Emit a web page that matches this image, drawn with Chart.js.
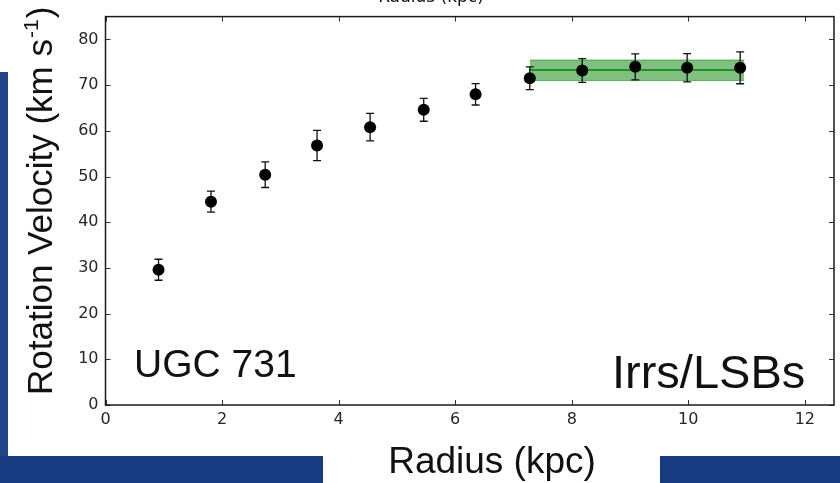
<!DOCTYPE html>
<html>
<head>
<meta charset="utf-8">
<script src="https://cdn.jsdelivr.net/npm/chart.js@4.4.1/dist/chart.umd.min.js"></script>
<style>
  html, body { margin: 0; padding: 0; background: #ffffff; }
  canvas { display: block; }
</style>
</head>
<body>
<canvas id="rc" width="840" height="483"></canvas>
<script>
// UGC 731 rotation curve: radius (kpc), velocity (km/s) and 1-sigma errors
const radius      = [0.91, 1.81, 2.74, 3.63, 4.54, 5.46, 6.35, 7.28, 8.18, 9.09, 9.98, 10.89];
const velocity    = [29.6, 44.5, 50.4, 56.8, 60.8, 64.6, 68.0, 71.5, 73.2, 74.0, 73.8, 73.8];
const velocityErr = [2.3, 2.3, 2.8, 3.3, 3.0, 2.5, 2.35, 2.5, 2.6, 2.85, 3.1, 3.5];

// Flat part of the curve: mean velocity and its band
const flatRange = [7.28, 10.96];
const flatMean  = 73.3;
const flatLow   = 71.0;
const flatHigh  = 75.5;

// Axis limits and tick spacing
const xRange = [0, 12.5];
const xStep  = 2;
const yRange = [0, 85];
const yStep  = 10;

const galaxyName = 'UGC 731';
const galaxyType = 'Irrs/LSBs';

const points = radius.map((r, i) => ({ x: r, y: velocity[i] }));
const flatLine = (v) => flatRange.map(r => ({ x: r, y: v }));

const POINTS_INDEX = 3;

const decor = {
  id: 'decor',
  beforeDraw(chart) {
    const ctx = chart.ctx;
    ctx.save();
    ctx.fillStyle = '#ffffff';
    ctx.fillRect(0, 0, chart.width, chart.height);
    ctx.fillStyle = '#22458c';
    ctx.fillRect(0, 72, 8, 384);
    ctx.fillStyle = '#173a80';
    ctx.fillRect(0, 456, 323, 27);
    ctx.fillRect(660, 456, 180, 27);
    ctx.restore();
  },
  beforeDatasetDraw(chart, args) {
    if (args.index !== POINTS_INDEX) return;
    const ctx = chart.ctx;
    const xs = chart.scales.x, ys = chart.scales.y;
    ctx.save();
    ctx.strokeStyle = '#111111';
    ctx.lineWidth = 1.3;
    radius.forEach((r, i) => {
      const px = xs.getPixelForValue(r);
      const top = ys.getPixelForValue(velocity[i] + velocityErr[i]);
      const bot = ys.getPixelForValue(velocity[i] - velocityErr[i]);
      ctx.beginPath();
      ctx.moveTo(px, top); ctx.lineTo(px, bot);
      ctx.moveTo(px - 4, top); ctx.lineTo(px + 4, top);
      ctx.moveTo(px - 4, bot); ctx.lineTo(px + 4, bot);
      ctx.stroke();
    });
    ctx.restore();
  },
  afterDraw(chart) {
    const ctx = chart.ctx;
    const a = chart.chartArea;
    const xs = chart.scales.x, ys = chart.scales.y;
    ctx.save();
    // inward tick marks on all four sides
    ctx.strokeStyle = '#333333';
    ctx.lineWidth = 1;
    ctx.beginPath();
    xs.ticks.forEach(t => {
      const px = Math.round(xs.getPixelForValue(t.value)) + 0.5;
      ctx.moveTo(px, a.bottom); ctx.lineTo(px, a.bottom - 5);
      ctx.moveTo(px, a.top); ctx.lineTo(px, a.top + 5);
    });
    ys.ticks.forEach(t => {
      const py = Math.round(ys.getPixelForValue(t.value)) + 0.5;
      ctx.moveTo(a.left, py); ctx.lineTo(a.left + 5, py);
      ctx.moveTo(a.right, py); ctx.lineTo(a.right - 5, py);
    });
    ctx.stroke();
    // plot frame
    ctx.strokeStyle = '#1a1a1a';
    ctx.lineWidth = 1.5;
    ctx.strokeRect(a.left, a.top, a.right - a.left, a.bottom - a.top);

    ctx.fillStyle = '#111111';
    // top axis label (partly above the canvas edge)
    ctx.font = '17px "DejaVu Sans"';
    ctx.textAlign = 'center';
    ctx.textBaseline = 'alphabetic';
    ctx.fillText('Radius (kpc)', 431, 2);

    // bottom axis label
    ctx.font = '37px "Liberation Sans"';
    ctx.fillText('Radius (kpc)', 492, 473);

    // vertical axis label with superscript
    ctx.save();
    ctx.translate(52, 395);
    ctx.rotate(-Math.PI / 2);
    ctx.textAlign = 'left';
    ctx.font = '35px "Liberation Sans"';
    const main = 'Rotation Velocity (km s';
    ctx.fillText(main, 0, 0);
    const w1 = ctx.measureText(main).width;
    ctx.font = '21px "Liberation Sans"';
    ctx.fillText('-1', w1 + 1, -14);
    const w2 = ctx.measureText('-1').width;
    ctx.font = '35px "Liberation Sans"';
    ctx.fillText(')', w1 + w2 + 2, 0);
    ctx.restore();

    // annotations
    ctx.textAlign = 'left';
    ctx.font = '39px "Liberation Sans"';
    ctx.fillText(galaxyName, 134, 377);
    ctx.font = '47px "Liberation Sans"';
    ctx.fillText(galaxyType, 612, 388);
    ctx.restore();
  }
};

new Chart(document.getElementById('rc'), {
  type: 'line',
  data: {
    datasets: [
      {
        data: flatLine(flatHigh),
        borderColor: 'rgba(0,128,0,0.5)',
        borderWidth: 1,
        pointRadius: 0,
        fill: false,
        order: 3
      },
      {
        data: flatLine(flatLow),
        borderColor: 'rgba(0,128,0,0.5)',
        borderWidth: 1,
        backgroundColor: 'rgba(0,128,0,0.5)',
        pointRadius: 0,
        fill: '-1',
        order: 3
      },
      {
        data: flatLine(flatMean),
        borderColor: '#008000',
        borderWidth: 1.6,
        pointRadius: 0,
        fill: false,
        order: 2
      },
      {
        data: points,
        showLine: false,
        pointRadius: 6,
        pointBackgroundColor: '#000000',
        pointBorderWidth: 0,
        borderWidth: 0,
        order: 0
      }
    ]
  },
  options: {
    responsive: false,
    animation: false,
    devicePixelRatio: 1,
    events: [],
    layout: { padding: { left: 0, top: 15, right: 6, bottom: 0 } },
    plugins: { legend: { display: false }, tooltip: { enabled: false }, title: { display: false } },
    scales: {
      x: {
        type: 'linear',
        min: xRange[0],
        max: xRange[1],
        grid: { display: false, drawTicks: false },
        border: { display: false },
        ticks: {
          stepSize: xStep,
          includeBounds: false,
          padding: 5,
          color: '#262626',
          font: { family: 'DejaVu Sans', size: 16 },
          maxRotation: 0
        },
        afterFit(scale) { scale.height = 78; }
      },
      y: {
        type: 'linear',
        min: yRange[0],
        max: yRange[1],
        grid: { display: false, drawTicks: false },
        border: { display: false },
        ticks: {
          stepSize: yStep,
          includeBounds: false,
          padding: 7,
          color: '#262626',
          font: { family: 'DejaVu Sans', size: 16 }
        },
        afterFit(scale) { scale.width = 105.5; }
      }
    }
  },
  plugins: [decor]
});
</script>
</body>
</html>
